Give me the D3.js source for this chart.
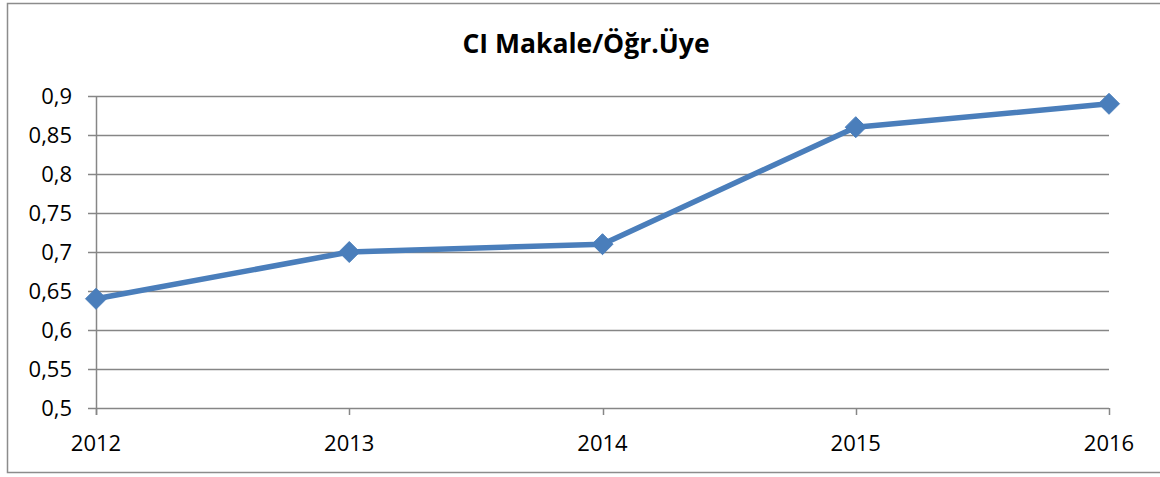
<!DOCTYPE html>
<html>
<head>
<meta charset="utf-8">
<script src="https://cdn.jsdelivr.net/npm/d3@7"></script>
<style>
  body { margin: 0; background: #fff; }
  svg { display: block; font-family: "Open Sans", sans-serif; }
</style>
</head>
<body>
<div class="canvas"></div>
<script>
// chart data
const years = ['2012', '2013', '2014', '2015', '2016'];
const values = [0.64, 0.70, 0.71, 0.86, 0.89];
const yTicks = [0.5, 0.55, 0.6, 0.65, 0.7, 0.75, 0.8, 0.85, 0.9];
const title = 'CI Makale/Öğr.Üye';

const width = 1160, height = 477;

const svg = d3.select('.canvas')
  .append('svg')
  .attr('width', width)
  .attr('height', height);

// outer frame
svg.append('rect')
  .attr('x', 7.5).attr('y', 3.5)
  .attr('width', 1160).attr('height', 469)
  .attr('fill', 'none')
  .attr('stroke', '#8c8c8c')
  .attr('stroke-width', 1.5);

const margin = {top: 96, right: 51, bottom: 69, left: 96};

const x = d3.scalePoint()
  .domain(years)
  .range([margin.left, width - margin.right]);

const y = d3.scaleLinear()
  .domain([0.5, 0.9])
  .range([height - margin.bottom, margin.top]);

const fmt = d => String(+d.toFixed(2)).replace('.', ',');

// gridlines
svg.append('g').selectAll('line')
  .data(yTicks)
  .enter().append('line')
  .attr('x1', margin.left - 8)
  .attr('x2', width - margin.right)
  .attr('y1', d => Math.round(y(d)) + 0.5)
  .attr('y2', d => Math.round(y(d)) + 0.5)
  .attr('stroke', '#868686')
  .attr('stroke-width', 1.5);

// y tick labels
svg.append('g').selectAll('text')
  .data(yTicks)
  .enter().append('text')
  .attr('x', 72)
  .attr('y', d => y(d))
  .attr('dy', '0.36em')
  .attr('text-anchor', 'end')
  .attr('font-size', 22)
  .attr('fill', '#000')
  .text(fmt);

// y axis line
svg.append('line')
  .attr('x1', margin.left + 0.5).attr('x2', margin.left + 0.5)
  .attr('y1', y(0.9)).attr('y2', y(0.5) + 7)
  .attr('stroke', '#868686').attr('stroke-width', 1.5);

// x ticks
svg.append('g').selectAll('line')
  .data(years)
  .enter().append('line')
  .attr('x1', d => Math.round(x(d)) + 0.5)
  .attr('x2', d => Math.round(x(d)) + 0.5)
  .attr('y1', y(0.5))
  .attr('y2', y(0.5) + 7)
  .attr('stroke', '#868686').attr('stroke-width', 1.5);

svg.append('g').selectAll('text')
  .data(years)
  .enter().append('text')
  .attr('x', d => x(d))
  .attr('y', 451)
  .attr('text-anchor', 'middle')
  .attr('font-size', 22)
  .attr('fill', '#000')
  .text(d => d);

// title
svg.append('text')
  .attr('x', 586)
  .attr('y', 53)
  .attr('text-anchor', 'middle')
  .attr('font-size', 26.5)
  .attr('font-weight', 'bold')
  .attr('fill', '#000')
  .text(title);

// series line
const pts = years.map((d, i) => [x(d), y(values[i])]);

svg.append('path')
  .datum(pts)
  .attr('d', d3.line())
  .attr('fill', 'none')
  .attr('stroke', '#4a7ebb')
  .attr('stroke-width', 5.5)
  .attr('stroke-linejoin', 'round');

// diamond markers
svg.append('g').selectAll('path')
  .data(pts)
  .enter().append('path')
  .attr('transform', d => `translate(${d[0]},${d[1]})`)
  .attr('d', 'M0,-10.5L10.5,0L0,10.5L-10.5,0Z')
  .attr('fill', '#4a7ebb')
  .attr('stroke', '#4a7ebb')
  .attr('stroke-width', 1);
</script>
</body>
</html>
